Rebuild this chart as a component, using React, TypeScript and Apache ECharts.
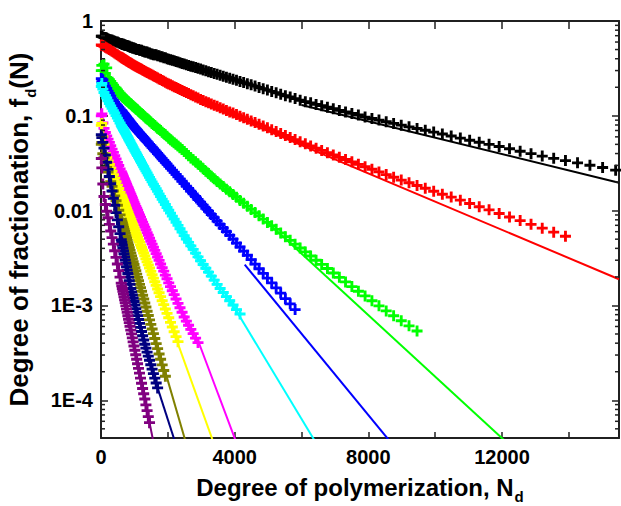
import React, { useEffect, useRef } from "react";
import * as echarts from "echarts";

// Degree of polymerization grid (markers of every series sit on this grid)
const N_GRID = [10, 25, 55, 90, 130, 170, 210, 250, 290, 330, 370, 410, 450, 490, 530, 570,
  606, 622, 638, 655, 672, 689, 707, 725, 744, 764, 784, 804, 825, 846, 868, 891, 914, 938, 962, 987,
  1013, 1040, 1067, 1094, 1123, 1152, 1182, 1213, 1245, 1277, 1310, 1344, 1379, 1415, 1452, 1490, 1529, 1568, 1609, 1651, 1694, 1738, 1783, 1830, 1877, 1926, 1976,
  2027, 2080, 2134, 2189, 2246, 2304, 2364, 2426, 2489, 2554, 2620, 2688, 2758, 2830, 2903, 2979,
  3056, 3136, 3217, 3301, 3387, 3475, 3565, 3658, 3753, 3851, 3951,
  4054, 4160, 4268, 4379, 4493, 4610, 4730, 4853, 4979,
  5108, 5241, 5377, 5517, 5661, 5808, 5959,
  6114, 6273, 6436, 6603, 6775, 6951,
  7132, 7317, 7507, 7702, 7902,
  8107, 8318, 8534, 8756, 8984,
  9217, 9457, 9703, 9955,
  10214, 10479, 10752,
  11031, 11318, 11612, 11914,
  12224, 12542, 12868,
  13203, 13546, 13898,
  14259, 14630,
  15010, 15400];

const BLACK = [0.69, 0.69, 0.68, 0.67, 0.67, 0.66, 0.65, 0.64, 0.63, 0.63, 0.62, 0.61, 0.60, 0.60, 0.59, 0.58,
  0.58, 0.57, 0.57, 0.57, 0.57, 0.56, 0.56, 0.56, 0.55, 0.55, 0.55, 0.54, 0.54, 0.54, 0.53, 0.53, 0.53, 0.52, 0.52, 0.52,
  0.51, 0.51, 0.50, 0.50, 0.50, 0.49, 0.49, 0.49, 0.48, 0.48, 0.47, 0.47, 0.47, 0.46, 0.46, 0.45, 0.45, 0.44, 0.44, 0.44, 0.43, 0.43, 0.42, 0.42, 0.41, 0.41, 0.40,
  0.395, 0.390, 0.385, 0.380, 0.374, 0.369, 0.363, 0.357, 0.352, 0.346, 0.340, 0.334, 0.329, 0.323, 0.317, 0.311,
  0.305, 0.299, 0.292, 0.286, 0.280, 0.274, 0.268, 0.262, 0.255, 0.249, 0.243,
  0.237, 0.230, 0.224, 0.218, 0.212, 0.206, 0.199, 0.193, 0.187,
  0.181, 0.175, 0.169, 0.163, 0.158, 0.152, 0.146,
  0.141, 0.137, 0.132, 0.128, 0.123, 0.119,
  0.114, 0.110, 0.106, 0.102, 0.097,
  0.0936, 0.0901, 0.0866, 0.0831, 0.0797,
  0.0765, 0.0734, 0.0704, 0.0674,
  0.0643, 0.0612, 0.0582,
  0.0553, 0.0526, 0.0500, 0.0475,
  0.0449, 0.0423, 0.0399,
  0.0376, 0.0356, 0.0337,
  0.0319, 0.0301,
  0.0285, 0.0267];

const RED = [0.56, 0.55, 0.55, 0.54, 0.53, 0.52, 0.51, 0.50, 0.49, 0.48, 0.47, 0.46, 0.45, 0.44, 0.43, 0.42,
  0.414, 0.410, 0.407, 0.404, 0.400, 0.397, 0.393, 0.390, 0.386, 0.382, 0.378, 0.374, 0.370, 0.366, 0.362, 0.358, 0.354, 0.350, 0.345, 0.341,
  0.337, 0.333, 0.329, 0.325, 0.321, 0.317, 0.313, 0.309, 0.304, 0.300, 0.296, 0.292, 0.287, 0.283, 0.278, 0.274, 0.269, 0.264, 0.260, 0.255, 0.250, 0.245, 0.241, 0.236, 0.231, 0.226, 0.221,
  0.216, 0.212, 0.208, 0.203, 0.199, 0.194, 0.190, 0.185, 0.181, 0.176, 0.172, 0.167, 0.163, 0.158, 0.154, 0.149,
  0.145, 0.141, 0.137, 0.133, 0.129, 0.126, 0.122, 0.118, 0.114, 0.110, 0.107,
  0.103, 0.0991, 0.0954, 0.0919, 0.0883, 0.0848, 0.0814, 0.078, 0.0747,
  0.0714, 0.0682, 0.0651, 0.062, 0.059, 0.0561, 0.0532,
  0.0506, 0.0481, 0.0456, 0.0432, 0.0409, 0.0386,
  0.0365, 0.0346, 0.0327, 0.0308, 0.029,
  0.0273, 0.0256, 0.024, 0.0225, 0.021,
  0.0197, 0.0184, 0.0172, 0.016,
  0.0149, 0.0139, 0.0129,
  0.0119, 0.011, 0.0102, 0.00934,
  0.00857, 0.00785, 0.00717,
  0.00653, 0.00593, 0.00537];

const GREEN = [0.30, 0.34, 0.30, 0.35, 0.28, 0.32, 0.25, 0.24, 0.23, 0.22, 0.21, 0.20, 0.196, 0.188, 0.180, 0.173,
  0.166, 0.164, 0.161, 0.158, 0.156, 0.154, 0.152, 0.150, 0.148, 0.146, 0.144, 0.142, 0.140, 0.137, 0.135, 0.133, 0.131, 0.128, 0.126, 0.124,
  0.122, 0.119, 0.117, 0.115, 0.112, 0.110, 0.107, 0.105, 0.103, 0.100, 0.098, 0.095, 0.093, 0.091, 0.088, 0.086, 0.083, 0.081, 0.079, 0.076, 0.074, 0.072, 0.070, 0.067, 0.065, 0.063, 0.061,
  0.058, 0.056, 0.054, 0.052, 0.050, 0.048, 0.046, 0.044, 0.042, 0.040, 0.038, 0.036, 0.0345, 0.0327, 0.031, 0.0293,
  0.0277, 0.0261, 0.0246, 0.0231, 0.0217, 0.0203, 0.0191, 0.018, 0.0168, 0.0158, 0.0148,
  0.0138, 0.0128, 0.012, 0.0111, 0.0103, 0.00953, 0.00882, 0.00815, 0.00751,
  0.00692, 0.00635, 0.00581, 0.00531, 0.00486, 0.00443, 0.00404,
  0.00367, 0.00332, 0.003, 0.00271, 0.00245, 0.0022,
  0.00198, 0.00177, 0.00158, 0.00141, 0.00126,
  0.00112, 0.00099, 0.000876, 0.000778, 0.00069,
  0.00061, 0.000537];

const BLUE = [0.247, 0.229, 0.24, 0.219, 0.206, 0.194, 0.182, 0.172, 0.162, 0.152, 0.145, 0.139, 0.133, 0.128, 0.123, 0.118,
  0.114, 0.112, 0.110, 0.108, 0.106, 0.1045, 0.1025, 0.1007, 0.0987, 0.0967, 0.0947, 0.0927, 0.0908, 0.0889, 0.0869, 0.0849, 0.0828, 0.0809, 0.0789, 0.0769,
  0.0749, 0.0731, 0.0713, 0.0696, 0.0677, 0.0659, 0.0642, 0.0623, 0.0605, 0.0588, 0.057, 0.0553, 0.0535, 0.0518, 0.05, 0.0483, 0.0466, 0.045, 0.0433, 0.0417, 0.04, 0.0385, 0.0369, 0.0353, 0.0338, 0.0323, 0.0309,
  0.0295, 0.0281, 0.0267, 0.0254, 0.0241, 0.0228, 0.0216, 0.0204, 0.0193, 0.0181, 0.0171, 0.016, 0.015, 0.0141, 0.0131, 0.0123,
  0.0114, 0.0106, 0.00984, 0.00911, 0.00842, 0.00776, 0.00714, 0.00656, 0.00601, 0.00549, 0.00501,
  0.00455, 0.00413, 0.00374, 0.00338, 0.00304, 0.00273, 0.00244, 0.00218, 0.00194,
  0.00173, 0.00153, 0.00135, 0.00118, 0.00104, 0.000905];

const CYAN = [0.204, 0.219, 0.191, 0.176, 0.164, 0.154, 0.144, 0.135, 0.127, 0.12, 0.113, 0.107, 0.1005, 0.0947, 0.0891, 0.0839,
  0.0794, 0.0775, 0.0756, 0.0737, 0.0718, 0.07, 0.0681, 0.0663, 0.0644, 0.0625, 0.0606, 0.0588, 0.0569, 0.0551, 0.0533, 0.0515, 0.0497, 0.048, 0.0462, 0.0445,
  0.0428, 0.0412, 0.0396, 0.038, 0.0364, 0.0349, 0.0334, 0.0319, 0.0304, 0.029, 0.0276, 0.0263, 0.025, 0.0237, 0.0224, 0.0212, 0.0201, 0.019, 0.018, 0.017, 0.016, 0.015, 0.0141, 0.0132, 0.0124, 0.0116, 0.0108,
  0.0101, 0.0094, 0.00876, 0.00814, 0.00754, 0.00698, 0.00644, 0.00593, 0.00545, 0.00502, 0.00462, 0.00425, 0.0039, 0.00356, 0.00325, 0.00296,
  0.0027, 0.00247, 0.00225, 0.00204, 0.00185, 0.00167, 0.00151, 0.00137, 0.00124, 0.00112, 0.00101,
  0.000904, 0.000812];

const MAGENTA = [0.1, 0.105, 0.0841, 0.0736, 0.0667, 0.0615, 0.0568, 0.0524, 0.0483, 0.0446, 0.0411, 0.0379, 0.035, 0.0323, 0.0299, 0.0276,
  0.0258, 0.025, 0.0242, 0.0234, 0.0227, 0.0219, 0.0212, 0.0205, 0.0197, 0.019, 0.0182, 0.0176, 0.0169, 0.0162, 0.0155, 0.0149, 0.0142, 0.0136, 0.0129, 0.0123,
  0.0117, 0.0111, 0.0106, 0.0101, 0.00953, 0.00902, 0.00853, 0.00804, 0.00757, 0.00713, 0.0067, 0.00628, 0.00587, 0.0055, 0.00512, 0.00476, 0.00443, 0.00411, 0.00381, 0.00352, 0.00324, 0.00299, 0.00274, 0.00251, 0.0023, 0.00209, 0.00191,
  0.00173, 0.00158, 0.00143, 0.0013, 0.00117, 0.00105, 0.000946, 0.000847, 0.000756, 0.000684, 0.000619, 0.00056, 0.000504, 0.000452, 0.000406];

const YELLOW = [0.0794, 0.0832, 0.0603, 0.0501, 0.0398, 0.0363, 0.0334, 0.0307, 0.0282, 0.026, 0.0239, 0.022, 0.0202, 0.0186, 0.0171, 0.0157,
  0.0146, 0.0141, 0.0136, 0.0131, 0.0127, 0.0122, 0.0118, 0.0114, 0.0109, 0.0105, 0.01, 0.00962, 0.0092, 0.00881, 0.00841, 0.00802, 0.00764, 0.00727, 0.00692, 0.00656,
  0.00621, 0.00587, 0.00555, 0.00524, 0.00493, 0.00465, 0.00436, 0.00408, 0.00382, 0.00357, 0.00333, 0.0031, 0.00288, 0.00268, 0.00248, 0.00229, 0.00211, 0.00194, 0.00178, 0.00163, 0.00149, 0.00136, 0.00124, 0.00112, 0.00102, 0.000917, 0.000826,
  0.000741, 0.000664, 0.000593, 0.000528, 0.000469, 0.000415];

const OLIVE = [0.0501, 0.0525, 0.0398, 0.0361, 0.0321, 0.0286, 0.0255, 0.0227, 0.0202, 0.018, 0.0161, 0.0143, 0.0127, 0.0114, 0.0101, 0.00902,
  0.00811, 0.00775, 0.0074, 0.00705, 0.00671, 0.00638, 0.00607, 0.00575, 0.00545, 0.00514, 0.00485, 0.00458, 0.00432, 0.00406, 0.00381, 0.00356, 0.00333, 0.00311, 0.0029, 0.0027,
  0.00251, 0.00232, 0.00214, 0.00198, 0.00182, 0.00167, 0.00154, 0.00141, 0.00128, 0.00117, 0.00106, 0.000962, 0.000869, 0.000783, 0.000705, 0.000631, 0.000564, 0.000504, 0.000448, 0.000396, 0.00035, 0.000308, 0.000271, 0.000236, 0.000206, 0.000179];

const NAVY = [0.0631, 0.0589, 0.0525, 0.0457, 0.0386, 0.0324, 0.0272, 0.0229, 0.0192, 0.0161, 0.0135, 0.0114, 0.00953, 0.008, 0.00676, 0.00573,
  0.00493, 0.00461, 0.00432, 0.00403, 0.00375, 0.0035, 0.00324, 0.00301, 0.00279, 0.00256, 0.00236, 0.00217, 0.00199, 0.00182, 0.00167, 0.00151, 0.00139, 0.00129, 0.00119, 0.0011,
  0.00101, 0.000927, 0.000849, 0.00078, 0.00071, 0.000646, 0.000587, 0.000531, 0.000479, 0.000432, 0.00039, 0.000355, 0.000322, 0.000292, 0.000264, 0.000237, 0.000213, 0.000191, 0.000171, 0.000152, 0.000135];

const PURPLE = [0.0355, 0.0282, 0.0191, 0.0141, 0.0116, 0.00986, 0.00841, 0.00716, 0.0061, 0.0052, 0.00443, 0.00378, 0.00321, 0.00274, 0.00233, 0.00199,
  0.00172, 0.00161, 0.00151, 0.00141, 0.00132, 0.00123, 0.00115, 0.00107, 0.000989, 0.000914, 0.000844, 0.000778, 0.000715, 0.000658, 0.000603, 0.00055, 0.000501, 0.000455, 0.000413, 0.000374,
  0.000337, 0.000302, 0.000271, 0.000243, 0.000217, 0.000193, 0.000171, 0.000151, 0.000133, 0.000117, 0.000103, 0.0000894, 0.0000778, 0.0000673, 0.0000581];

// Fitted exponential lines: [N, f] start and end points
const FIT_BLACK = [[6000, 0.130], [15500, 0.0197]];
const FIT_RED = [[3000, 0.1368], [15500, 0.00189]];
const FIT_GREEN = [[5000, 0.00743], [12500, 0.0000274]];
const FIT_BLUE = [[4300, 0.0027], [9000, 0.000026]];
const FIT_CYAN = [[3800, 0.001227], [6700, 0.0000248]];
const FIT_MAGENTA = [[2903, 0.000427], [4200, 0.0000259]];
const FIT_YELLOW = [[2304, 0.000394], [3500, 0.0000265]];
const FIT_OLIVE = [[1926, 0.000198], [2700, 0.0000229]];
const FIT_NAVY = [[1694, 0.000135], [2400, 0.0000229]];
const FIT_PURPLE = [[1452, 0.0000581], [1700, 0.0000213]];

const COLORS = ["#000000", "#ff0000", "#00ff00", "#0000ff", "#00ffff", "#ff00ff", "#ffff00", "#808000", "#000080", "#800080"];

const Y_LABELS: Record<number, string> = { 0: "1", [-1]: "0.1", [-2]: "0.01", [-3]: "1E-3", [-4]: "1E-4" };
const X_LABELS = [0, 4000, 8000, 12000];
const Y_MINOR = [5e-5, 6e-5, 7e-5, 8e-5, 9e-5,
  2e-4, 3e-4, 4e-4, 5e-4, 6e-4, 7e-4, 8e-4, 9e-4,
  2e-3, 3e-3, 4e-3, 5e-3, 6e-3, 7e-3, 8e-3, 9e-3,
  2e-2, 3e-2, 4e-2, 5e-2, 6e-2, 7e-2, 8e-2, 9e-2,
  0.2, 0.3, 0.4, 0.5, 0.6, 0.7, 0.8, 0.9];

const FONT = "'Liberation Sans', Arial, Helvetica, sans-serif";
const AXIS_COLOR = "#202020";
const PLUS = "path://M0,3.7H10V6.3H0Z M3.7,0H6.3V10H3.7Z";

export default function App() {
  const ref = useRef<HTMLDivElement>(null);
  useEffect(() => {
    const chart = echarts.init(ref.current!, null, { renderer: "svg" });
    const markerSets = [BLACK, RED, GREEN, BLUE, CYAN, MAGENTA, YELLOW, OLIVE, NAVY, PURPLE];
    const fitSets = [FIT_BLACK, FIT_RED, FIT_GREEN, FIT_BLUE, FIT_CYAN, FIT_MAGENTA, FIT_YELLOW, FIT_OLIVE, FIT_NAVY, FIT_PURPLE];

    const scatterSeries = markerSets.map((vals, k) => ({
      type: "scatter",
      xAxisIndex: 0,
      yAxisIndex: 0,
      symbol: PLUS,
      symbolSize: 11,
      itemStyle: { color: COLORS[k], opacity: 1 },
      data: vals.map((v, i) => [N_GRID[i], v]),
      z: 2,
      silent: true,
    }));
    const lineSeries = fitSets.map((pts, k) => ({
      type: "line",
      xAxisIndex: 0,
      yAxisIndex: 0,
      symbol: "none",
      showSymbol: false,
      clip: true,
      lineStyle: { color: COLORS[k], width: 2 },
      data: pts,
      z: 3,
      silent: true,
    }));
    const minorTicks = {
      type: "custom",
      xAxisIndex: 0,
      yAxisIndex: 0,
      silent: true,
      clip: false,
      z: 5,
      data: Y_MINOR.map((v) => [0, v]),
      encode: { x: 0, y: 1 },
      renderItem: (params: any, api: any) => {
        const cs = params.coordSys;
        const y = api.coord([0, api.value(1)])[1];
        return {
          type: "group",
          children: [
            { type: "line", shape: { x1: cs.x, y1: y, x2: cs.x + 4, y2: y }, style: { stroke: AXIS_COLOR, lineWidth: 1.5 } },
            { type: "line", shape: { x1: cs.x + cs.width - 4, y1: y, x2: cs.x + cs.width, y2: y }, style: { stroke: AXIS_COLOR, lineWidth: 1.5 } },
          ],
        };
      },
    };

    const xBase = {
      type: "value",
      min: 0,
      max: 15500,
      interval: 2000,
      splitLine: { show: false },
      axisLine: { show: true, onZero: false, lineStyle: { color: AXIS_COLOR, width: 2 } },
    };
    const yBase = {
      type: "log",
      logBase: 10,
      min: 4e-5,
      max: 1,
      splitLine: { show: false },
      axisLine: { show: true, onZero: false, lineStyle: { color: AXIS_COLOR, width: 2 } },
    };

    chart.setOption({
      animation: false,
      backgroundColor: "#ffffff",
      grid: { left: 101, right: 2, top: 21, bottom: 68, containLabel: false, outerBoundsMode: "none" },
      xAxis: [
        {
          ...xBase,
          position: "bottom",
          axisTick: { show: true, inside: true, length: 6, interval: 0, lineStyle: { color: AXIS_COLOR, width: 1.5 } },
          axisLabel: {
            show: true,
            interval: 0,
            margin: 9,
            color: "#000",
            fontSize: 20,
            fontWeight: "bold",
            fontFamily: FONT,
            formatter: (v: number) => (X_LABELS.indexOf(v) >= 0 ? String(v) : ""),
          },
          name: "{t|Degree of polymerization, N}{s|d}",
          nameLocation: "middle",
          nameGap: 34,
          nameTextStyle: {
            rich: {
              t: { fontSize: 24, fontWeight: "bold", fontFamily: FONT, color: "#000", lineHeight: 30 },
              s: { fontSize: 15, fontWeight: "bold", fontFamily: FONT, color: "#000", lineHeight: 1, verticalAlign: "top", padding: [17, 0, 0, 1] },
            },
          },
        },
        {
          ...xBase,
          position: "top",
          axisTick: { show: true, inside: true, length: 8, interval: 0, lineStyle: { color: AXIS_COLOR, width: 1.5 } },
          axisLabel: { show: false },
        },
      ],
      yAxis: [
        {
          ...yBase,
          position: "left",
          axisTick: { show: true, inside: true, length: 7, lineStyle: { color: AXIS_COLOR, width: 1.5 } },
          axisLabel: {
            show: true,
            margin: 8,
            color: "#000",
            fontSize: 20,
            fontWeight: "bold",
            fontFamily: FONT,
            formatter: (v: number) => {
              const l = Math.log10(v);
              const e = Math.round(l);
              if (Math.abs(l - e) > 0.01) return "";
              return Y_LABELS[e] ?? "";
            },
          },
          name: "{t|Degree of fractionation, f}{s|d}{t|(N)}",
          nameLocation: "middle",
          nameRotate: 90,
          nameGap: 66,
          nameTextStyle: {
            rich: {
              t: { fontSize: 26, fontWeight: "bold", fontFamily: FONT, color: "#000", lineHeight: 32 },
              s: { fontSize: 15, fontWeight: "bold", fontFamily: FONT, color: "#000", lineHeight: 1, verticalAlign: "top", padding: [20, 0, 0, 1] },
            },
          },
        },
        {
          ...yBase,
          position: "right",
          axisTick: { show: true, inside: true, length: 7, lineStyle: { color: AXIS_COLOR, width: 1.5 } },
          axisLabel: { show: false },
        },
      ],
      series: [...scatterSeries, ...lineSeries, minorTicks],
    });
    return () => chart.dispose();
  }, []);
  return (
    <div
      ref={ref}
      style={{ position: "fixed", left: 0, top: 0, width: 621, height: 506, background: "#fff" }}
    />
  );
}
